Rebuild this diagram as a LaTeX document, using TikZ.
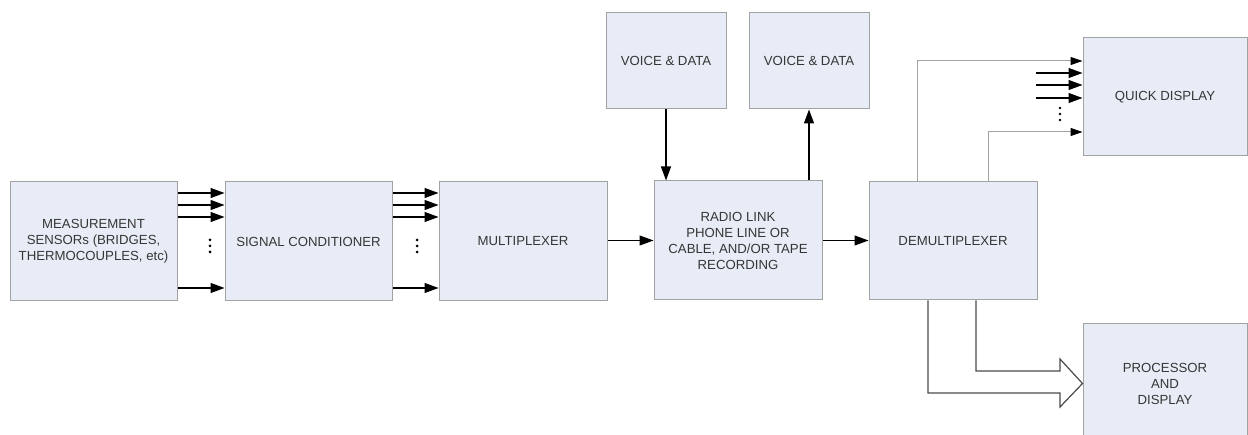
\documentclass[tikz,border=0pt]{standalone}
\usepackage{fontspec}
\setmainfont{Liberation Sans}
\usetikzlibrary{arrows.meta,calc}
\definecolor{boxfill}{HTML}{E8ECF6}
\definecolor{boxline}{HTML}{A2A2A2}
\definecolor{txt}{HTML}{363636}
\definecolor{hollowline}{HTML}{4A4A4A}
\begin{document}
\begin{tikzpicture}[x=1pt,y=-1pt,
  blk/.style={draw=boxline,fill=boxfill,line width=1pt,inner sep=2pt,align=center,
    text=txt,font=\fontsize{13.2}{16}\selectfont,minimum height=119pt,minimum width=#1},
  blk/.default=167pt,
  arr/.style={draw=black,line width=1.2pt,-{Triangle[length=14pt,width=10pt]}},
  thinarr/.style={draw=boxline,line width=1pt,-{Triangle[length=12pt,width=8pt,color=black]}},
  hollow/.style={draw=hollowline,line width=1.2pt,line join=miter},
  dot/.style={fill=black}
]
\useasboundingbox (0,0) rectangle (1248,435);
\clip (0,0) rectangle (1248,435);

% boxes
\node[blk] (sens) at (93.5,241.5) {MEASUREMENT\\SENSORs (BRIDGES,\\THERMOCOUPLES, etc)};
\node[blk] (sc) at (308.5,241.5) {SIGNAL CONDITIONER};
\node[blk=168pt] (mux) at (523,241) {MULTIPLEXER};
\node[blk=168pt] (radio) at (738,240.5) {RADIO LINK\\PHONE LINE OR\\CABLE, AND/OR TAPE\\RECORDING};
\node[blk=120pt,minimum height=96pt] (v1) at (666,61) {VOICE \& DATA};
\node[blk=120pt,minimum height=96pt] (v2) at (809,61) {VOICE \& DATA};
\node[blk=168pt,minimum height=118pt] (demux) at (953,241) {DEMULTIPLEXER};
\node[blk=164pt,minimum height=118pt] (qd) at (1165,97) {QUICK DISPLAY};
\node[blk=164pt] (proc) at (1165,383.5) {PROCESSOR\\AND\\DISPLAY};

% level coordinates
\coordinate (r1) at (0,193);
\coordinate (r2) at (0,205);
\coordinate (r3) at (0,217);
\coordinate (r4) at (0,288);
\coordinate (q0) at (917,61);
\coordinate (q1) at (0,73);
\coordinate (q2) at (0,85);
\coordinate (q3) at (0,98);
\coordinate (q4) at (988,132);
\coordinate (qs) at (1036,0);
\coordinate (hA) at (928,300);
\coordinate (hB) at (976,300);

% sensors -> conditioner -> mux
\foreach \r in {r1,r2,r3,r4}{
  \draw[arr] (sens.east |- \r) -- (sc.west |- \r);
  \draw[arr] (sc.east |- \r) -- (mux.west |- \r);
}
\foreach \y in {240,246,252}{
  \fill[dot] (210,\y) circle (1.5pt);
  \fill[dot] (417,\y) circle (1.5pt);
}

% mux -> radio -> demux
\draw[arr] (mux.east |- radio.center) -- (radio.west);
\draw[arr] (radio.east) -- (demux.west |- radio.east);

% voice & data
\draw[arr] (v1.south) -- (radio.north -| v1.south);
\draw[arr] (radio.north -| v2.south) -- (v2.south);

% demux -> quick display
\draw[thinarr] (demux.north -| q0) |- (qd.west |- q0);
\draw[thinarr] (demux.north -| q4) |- (qd.west |- q4);
\foreach \q in {q1,q2,q3}{
  \draw[arr] (qs |- \q) -- (qd.west |- \q);
}
\foreach \y in {108,114,120}{
  \fill[dot] (1060,\y) circle (1.3pt);
}

% demux -> processor (hollow block arrow)
\draw[hollow] (demux.south -| hA) -- (928,393) -- (1060,393) -- (1060,407)
  -- (proc.west) -- (1060,359) -- (1060,371) -- (976,371) -- (demux.south -| hB);
\end{tikzpicture}
\end{document}
